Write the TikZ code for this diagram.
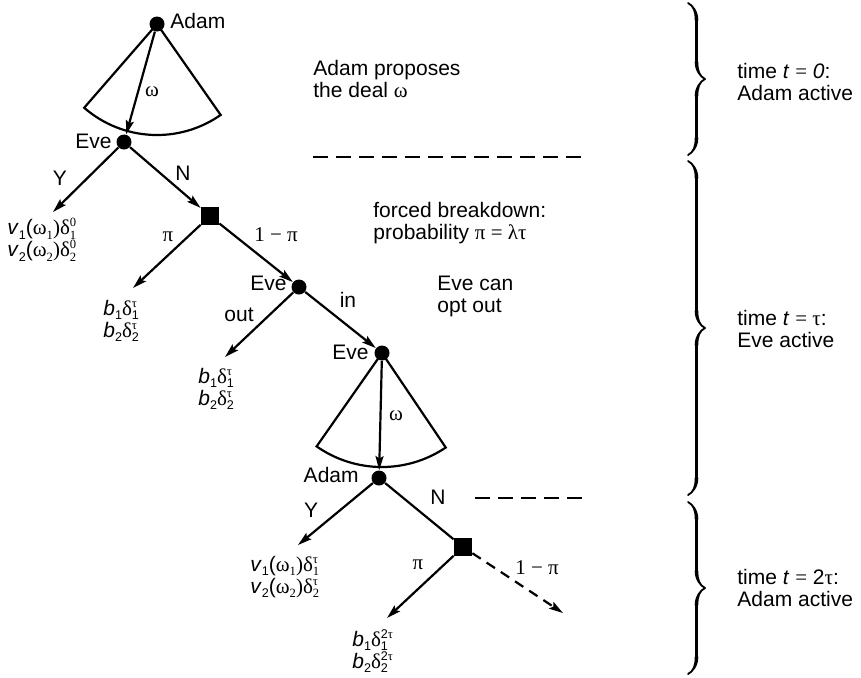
\documentclass[tikz,border=0pt]{standalone}
\usepackage{fontspec}
\setmainfont{Liberation Sans}
\newfontfamily\grk{Liberation Serif}
\usetikzlibrary{arrows.meta,decorations.pathreplacing,calligraphy}

% Greek letters and symbols in the serif face
\newcommand\gr[1]{{\grk #1}}
% small index text
\newcommand\sbx[1]{\hbox{\fontsize{6.3}{7}\selectfont #1}}
% delta with subscript #1 and superscript #2
\newcommand\dl[2]{{\grk δ}\makebox[0pt][l]{\raisebox{-0.22em}{\sbx{#1}}}\raisebox{0.38em}{\sbx{#2}}}
% symbol #1 with subscript #2
\newcommand\ix[2]{#1\raisebox{-0.22em}{\sbx{#2}}}

\begin{document}
\begin{tikzpicture}[x=0.5pt,y=0.5pt,
  font=\fontsize{10.5}{11}\selectfont,
  player/.style={circle,fill=black,inner sep=0pt,minimum size=7.5pt},
  chance/.style={rectangle,fill=black,inner sep=0pt,minimum size=9pt},
  lbl/.style={inner sep=0pt},
  pay/.style={inner sep=0pt,align=left,anchor=west},
  mv/.style={line width=1.1pt,-{Stealth[length=7pt,width=4pt,inset=1.2pt]}},
  br/.style={line width=1.1pt},
  sep/.style={line width=0.7pt,dash pattern=on 7.5pt off 4pt},
  tbrace/.style={decorate,decoration={calligraphic brace,amplitude=8.5pt},
                 line width=1.8pt,pen colour=black},
  txt/.style={inner sep=0pt,align=left,anchor=west}]

\useasboundingbox (0,0) rectangle (861,-677);

% decision and chance nodes
\node[player] (a0) at (157,-24) {};
\node[player] (e0) at (124,-142) {};
\node[chance] (c0) at (210,-216) {};
\node[player] (e1) at (299,-287) {};
\node[player] (e2) at (382,-353) {};
\node[player] (a1) at (379,-478) {};
\node[chance] (c1) at (463,-547) {};

% who moves
\node[lbl,anchor=west] (a0n) at (170,-21) {Adam};
\node[lbl,anchor=east] (e0n) at (112,-141) {Eve};
\node[lbl,anchor=east] (e1n) at (287,-283) {Eve};
\node[lbl,anchor=east] (e2n) at (369,-352) {Eve};
\node[lbl,anchor=east] (a1n) at (359,-475) {Adam};

% proposal fans
\draw[br] (a0.center) -- ++(229:55.5pt)
  arc[start angle=229,end angle=305,radius=55.5pt] -- (a0.center);
\draw[br] (e2.center) -- ++(235:57pt)
  arc[start angle=235,end angle=304,radius=57pt] -- (e2.center);

% end points of terminal moves
\coordinate (p0) at (53,-212);
\coordinate (p1) at (133,-288);
\coordinate (p2) at (225,-357);
\coordinate (p3) at (298,-545);
\coordinate (p4) at (387,-618);
\coordinate (p5) at (563,-613);

% moves
\draw[mv] (a0) -- (e0);
\draw[mv] (e0) -- (p0);
\draw[mv] (e0) -- (c0);
\draw[mv] (c0) -- (p1);
\draw[mv] (c0) -- (e1);
\draw[mv] (e1) -- (p2);
\draw[mv] (e1) -- (e2);
\draw[mv] (e2) -- (a1);
\draw[mv] (a1) -- (p3);
\draw[br] (a1) -- (c1);
\draw[mv] (c1) -- (p4);
\draw[mv,dash pattern=on 5pt off 3.5pt] (c1) -- (p5);

% move labels
\node[lbl] (w0) at (152,-92) {\gr{ω}};
\node[lbl] (y0) at (60,-178) {Y};
\node[lbl] (n0) at (183,-173) {N};
\node[lbl] (q0) at (168,-237) {\gr{π}};
\node[lbl] (r0) at (276,-235) {\gr{1 − π}};
\node[lbl] (o1) at (239,-315) {out};
\node[lbl] (i1) at (348,-300) {in};
\node[lbl] (w1) at (396,-416) {\gr{ω}};
\node[lbl] (y1) at (311,-510) {Y};
\node[lbl] (n1) at (438,-497) {N};
\node[lbl] (q1) at (418,-565) {\gr{π}};
\node[lbl] (r1) at (537,-568) {\gr{1 − π}};

% payoffs
\node[pay] (u0) at (7,-240) {\ix{\textit{v}}{1}(\ix{\grk ω}{1})\dl{1}{0}\\
  \ix{\textit{v}}{2}(\ix{\grk ω}{2})\dl{2}{0}};
\node[pay] (u1) at (103,-321) {\ix{\textit{b}}{1}\dl{1}{\grk τ}\\\ix{\textit{b}}{2}\dl{2}{\grk τ}};
\node[pay] (u2) at (198,-389) {\ix{\textit{b}}{1}\dl{1}{\grk τ}\\\ix{\textit{b}}{2}\dl{2}{\grk τ}};
\node[pay] (u3) at (250,-577) {\ix{\textit{v}}{1}(\ix{\grk ω}{1})\dl{1}{\grk τ}\\
  \ix{\textit{v}}{2}(\ix{\grk ω}{2})\dl{2}{\grk τ}};
\node[pay] (u4) at (352,-651) {\ix{\textit{b}}{1}\dl{1}{2\grk τ}\\\ix{\textit{b}}{2}\dl{2}{2\grk τ}};

% comments
\node[txt] (k0) at (313,-79) {Adam proposes\\the deal \gr{ω}};
\node[txt] (k1) at (373,-223) {forced breakdown:\\probability \gr{π = λτ}};
\node[txt] (k2) at (437,-296) {Eve can\\opt out};

% period separators
\coordinate (s0a) at (313,-157);
\coordinate (s0b) at (586,-157);
\coordinate (s1a) at (475,-498);
\coordinate (s1b) at (586,-498);
\draw[sep] (s0a) -- (s0b);
\draw[sep] (s1a) -- (s1b);

% periods
\coordinate (b0a) at (688,-3);
\coordinate (b0b) at (688,-155);
\coordinate (b1a) at (688,-161);
\coordinate (b1b) at (688,-495);
\coordinate (b2a) at (688,-502);
\coordinate (b2b) at (688,-674);
\draw[tbrace] (b0a) -- (b0b);
\draw[tbrace] (b1a) -- (b1b);
\draw[tbrace] (b2a) -- (b2b);

\node[txt] (t0) at (737,-82) {time \textit{t} \gr{=} \textit{0}:\\Adam active};
\node[txt] (t1) at (737,-329) {time \textit{t} \gr{= τ}:\\Eve active};
\node[txt] (t2) at (737,-588) {time \textit{t} \gr{=} 2\gr{τ}:\\Adam active};
\end{tikzpicture}
\end{document}
